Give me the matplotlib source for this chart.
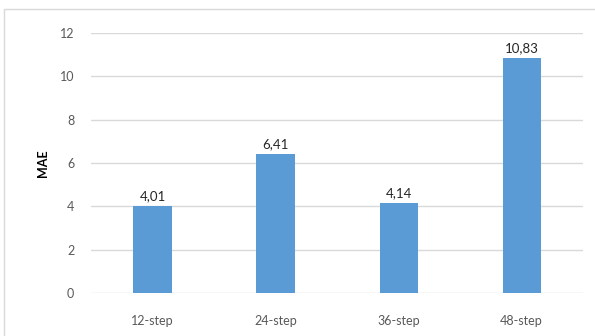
import matplotlib.pyplot as plt
from matplotlib.patches import Rectangle

passos = ["12-step", "24-step", "36-step", "48-step"]
mae = [4.01, 6.41, 4.14, 10.83]
rotulos = ["4,01", "6,41", "4,14", "10,83"]

plt.rcParams['font.family'] = ['Lato', 'DejaVu Sans']

fig = plt.figure(figsize=(5.95, 3.36), dpi=100)
ax = fig.add_axes([0.153, 0.128, 0.827, 0.774])

# moldura do gráfico
fig.patches.append(Rectangle((4 / 595, -0.1), 1.2, 1.1 - 9 / 336,
                             transform=fig.transFigure, fill=False,
                             edgecolor='#d9d9d9', linewidth=1.0))

x = range(len(passos))
barras = ax.bar(x, mae, width=0.31, color='#5b9bd5', zorder=3)
for b, r in zip(barras, rotulos):
    ax.annotate(r, (b.get_x() + b.get_width() / 2, b.get_height()),
                xytext=(0, 3), textcoords='offset points',
                ha='center', va='bottom', fontsize=9.5, color='#262626')

ax.set_xlim(-0.5, 3.5)
ax.set_ylim(0, 12)
ax.set_yticks(range(0, 13, 2))
ax.set_xticks(list(x))
ax.set_xticklabels(passos)
ax.grid(axis='y', color='#d9d9d9', linewidth=1.0, zorder=0)
for s in ax.spines.values():
    s.set_visible(False)
ax.tick_params(axis='both', length=0, labelsize=9, colors='#595959')
ax.tick_params(axis='x', pad=16)
ax.tick_params(axis='y', pad=12)
ax.set_ylabel("MAE", fontsize=9, fontweight='bold', color='#000000', labelpad=8)

fig.savefig("out.png", dpi=100)
